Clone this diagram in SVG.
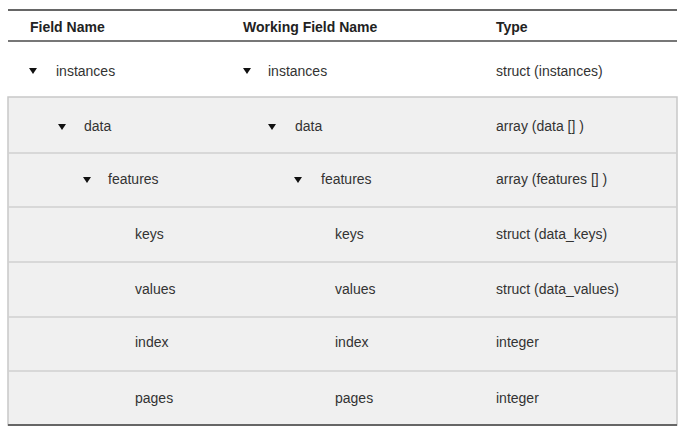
<svg xmlns="http://www.w3.org/2000/svg" width="682" height="432" viewBox="0 0 682 432">
<style>
text{font-family:"Liberation Sans",Arial,sans-serif;font-size:14px;fill:#333}
.h{font-weight:bold;fill:#222}
.sep{stroke:#d0d0d0;stroke-width:1.5}
</style>
<defs><path id="tri" d="M-4,-3 L4,-3 L0,3 Z" fill="#111"/></defs>
<rect width="682" height="432" fill="#fff"/>
<line x1="8" y1="10" x2="677" y2="10" stroke="#666" stroke-width="2"/>
<line x1="8" y1="41" x2="677" y2="41" stroke="#777" stroke-width="2"/>
<g id="header">
<text class="h" x="30" y="32">Field Name</text>
<text class="h" x="243" y="32">Working Field Name</text>
<text class="h" x="496" y="32">Type</text>
</g>
<rect x="8" y="97" width="669" height="328" fill="#f0f0f0" stroke="#c8c8c8" stroke-width="1.5"/>
<g id="rows-sep">
<line class="sep" x1="8" y1="153" x2="677" y2="153"/>
<line class="sep" x1="8" y1="207" x2="677" y2="207"/>
<line class="sep" x1="8" y1="262" x2="677" y2="262"/>
<line class="sep" x1="8" y1="317" x2="677" y2="317"/>
<line class="sep" x1="8" y1="371" x2="677" y2="371"/>
</g>
<line x1="8" y1="425" x2="677" y2="425" stroke="#666" stroke-width="2"/>
<g id="row-instances">
<use href="#tri" x="33" y="71"/><text x="56" y="76">instances</text>
<use href="#tri" x="247" y="71"/><text x="268" y="76">instances</text>
<text x="496" y="76">struct (instances)</text>
</g>
<g id="row-data">
<use href="#tri" x="62" y="127"/><text x="84" y="131">data</text>
<use href="#tri" x="272" y="127"/><text x="295" y="131">data</text>
<text x="496" y="131">array (data [] )</text>
</g>
<g id="row-features">
<use href="#tri" x="87" y="180"/><text x="108" y="184">features</text>
<use href="#tri" x="298" y="180"/><text x="321" y="184">features</text>
<text x="496" y="184">array (features [] )</text>
</g>
<g id="row-keys">
<text x="135" y="239">keys</text><text x="335" y="239">keys</text>
<text x="496" y="239">struct (data_keys)</text>
</g>
<g id="row-values">
<text x="135" y="294">values</text><text x="335" y="294">values</text>
<text x="496" y="294">struct (data_values)</text>
</g>
<g id="row-index">
<text x="135" y="347">index</text><text x="335" y="347">index</text>
<text x="496" y="347">integer</text>
</g>
<g id="row-pages">
<text x="135" y="403">pages</text><text x="335" y="403">pages</text>
<text x="496" y="403">integer</text>
</g>
</svg>
